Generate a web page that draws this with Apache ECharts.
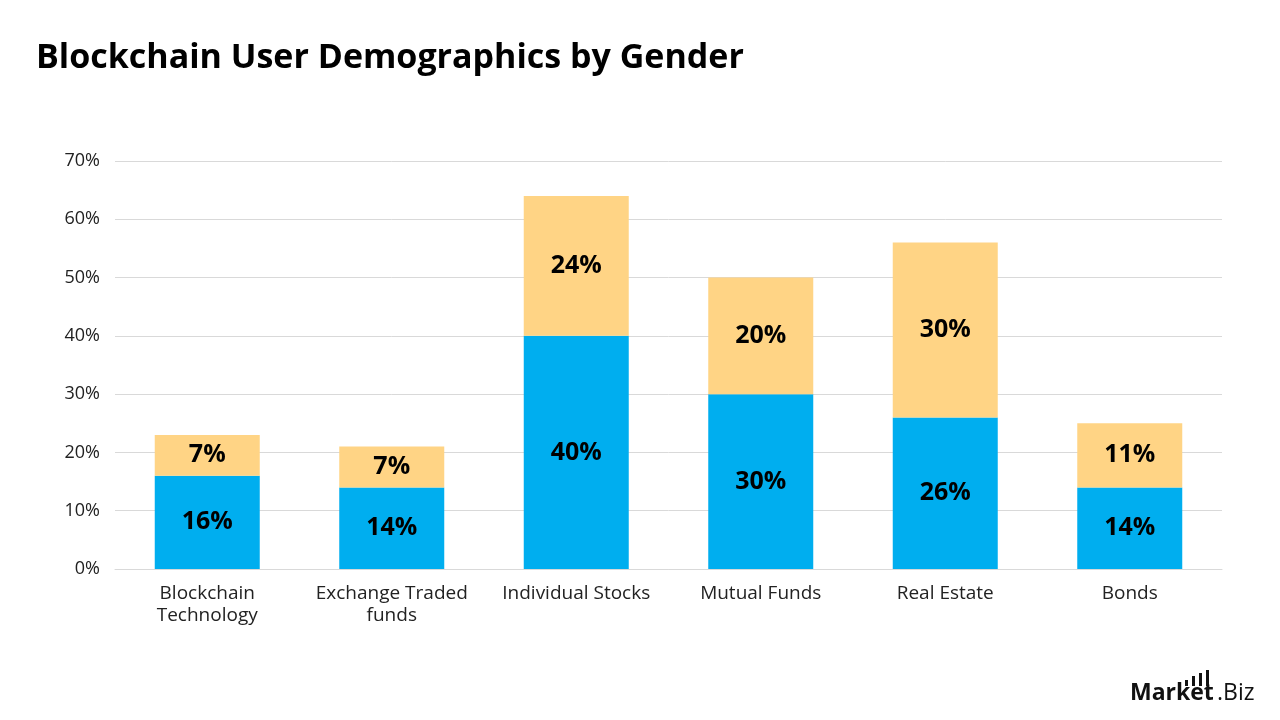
<!DOCTYPE html>
<html><head><meta charset="utf-8">
<script src="https://cdn.jsdelivr.net/npm/echarts@6/dist/echarts.min.js"></script>
<style>html,body{margin:0;padding:0;background:#fff}#c{width:1280px;height:720px}</style>
</head><body><div id="c"></div>
<script>
const categories = ['Blockchain\nTechnology', 'Exchange Traded\nfunds', 'Individual Stocks', 'Mutual Funds', 'Real Estate', 'Bonds'];
const seriesBlue = [16, 14, 40, 30, 26, 14];
const seriesOrange = [7, 7, 24, 20, 30, 11];
const FONT = '"Open Sans", "DejaVu Sans", sans-serif';
const chart = echarts.init(document.getElementById('c'));
const labelStyle = {show: true, position: 'inside', formatter: '{c}%', color: '#000', fontWeight: 'bold', fontSize: 25, fontFamily: FONT};
chart.setOption({
  animation: false,
  backgroundColor: '#fff',
  title: {text: 'Blockchain User Demographics by Gender', left: 31, top: 36,
    textStyle: {fontFamily: FONT, fontWeight: 'bold', fontSize: 34, color: '#000'}},
  grid: {left: 115, right: 58, top: 161, bottom: 151},
  xAxis: {type: 'category', data: categories,
    axisLine: {show: true, lineStyle: {color: '#d9d9d9'}}, axisTick: {show: false},
    axisLabel: {fontFamily: FONT, fontSize: 19, color: '#222', margin: 14, lineHeight: 22, interval: 0}},
  yAxis: {type: 'value', min: 0, max: 70, interval: 10,
    axisLine: {show: false}, axisTick: {show: false},
    splitLine: {lineStyle: {color: '#d9d9d9'}},
    axisLabel: {formatter: '{value}%', fontFamily: FONT, fontSize: 18, color: '#222', margin: 15}},
  series: [
    {type: 'bar', stack: 't', data: seriesBlue, barWidth: 105, itemStyle: {color: '#00AEEF'}, label: labelStyle},
    {type: 'bar', stack: 't', data: seriesOrange, barWidth: 105, itemStyle: {color: '#FFD485'}, label: labelStyle}
  ],
  graphic: [
    {type: 'text', left: 1130, top: 682, style: {text: 'Market', font: 'bold 23px ' + FONT, fill: '#111'}},
    {type: 'text', left: 1217, top: 682, style: {text: '.Biz', font: '23px ' + FONT, fill: '#111'}},
    {type: 'rect', shape: {x: 1185, y: 680, width: 3, height: 6}, style: {fill: '#111'}},
    {type: 'rect', shape: {x: 1192, y: 676, width: 3, height: 10}, style: {fill: '#111'}},
    {type: 'rect', shape: {x: 1199, y: 673, width: 3, height: 13}, style: {fill: '#111'}},
    {type: 'rect', shape: {x: 1206, y: 670, width: 3, height: 16}, style: {fill: '#111'}}
  ]
});
</script></body></html>
